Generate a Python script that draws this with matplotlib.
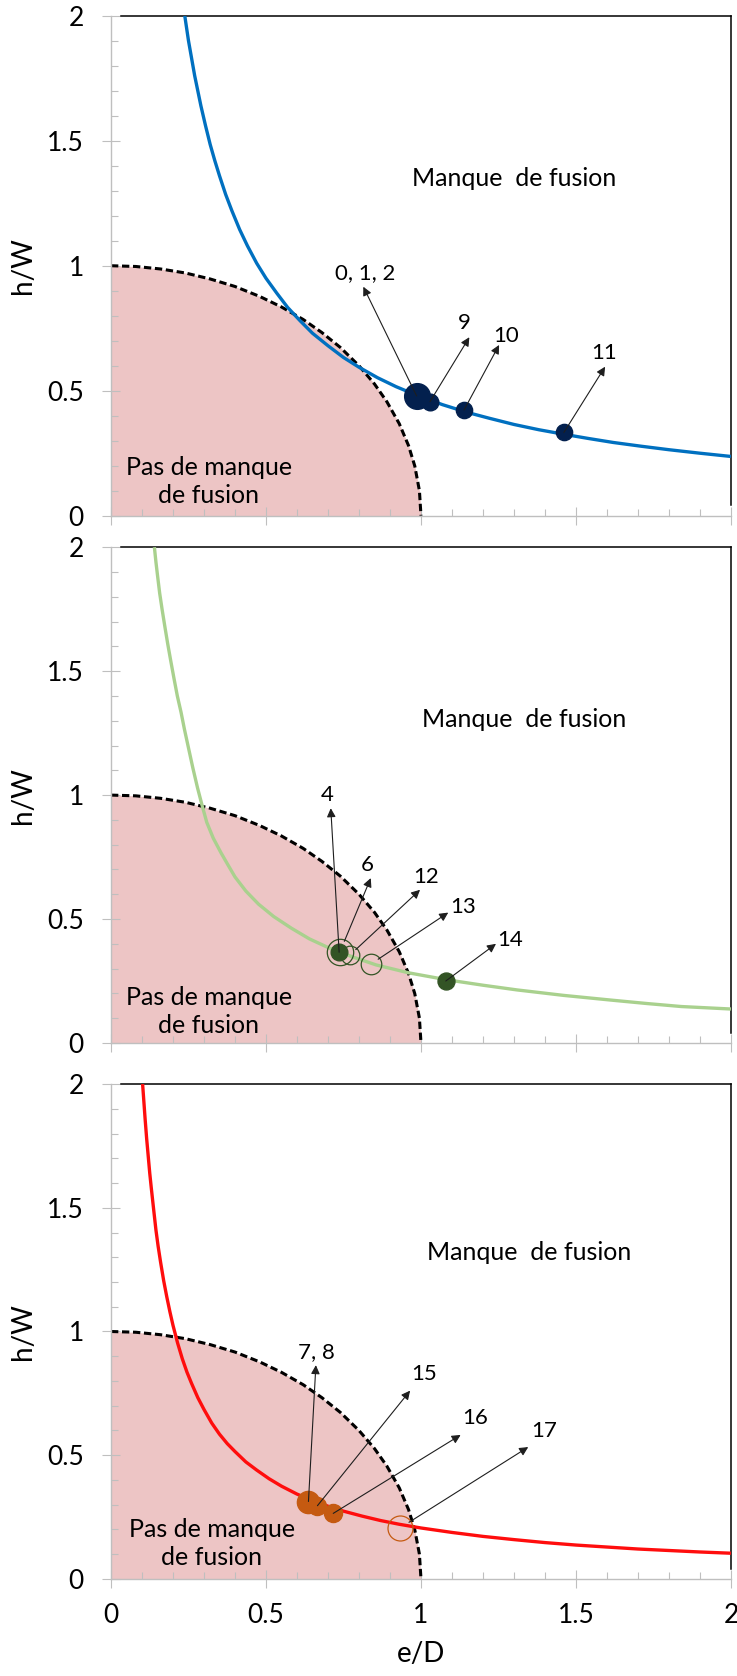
import matplotlib
matplotlib.use("Agg")
import matplotlib.pyplot as plt
from matplotlib.ticker import MultipleLocator, FixedLocator, FixedFormatter

plt.rcParams['font.family'] = ['Lato', 'DejaVu Sans']

# dashed limit between "fusion" / "manque de fusion" (same on every panel)
limit_x = [0.0, 0.08, 0.16, 0.24, 0.32, 0.40, 0.48, 0.55, 0.62, 0.68, 0.74,
           0.80, 0.85, 0.89, 0.93, 0.96, 0.98, 0.995, 1.0]
limit_y = [1.0, 0.997, 0.987, 0.971, 0.947, 0.917, 0.877, 0.835, 0.785, 0.733,
           0.673, 0.60, 0.527, 0.456, 0.368, 0.280, 0.199, 0.10, 0.0]

# panel 1 (blue)
curve1_x = [0.238, 0.25, 0.26, 0.27, 0.28, 0.29, 0.305, 0.32, 0.335, 0.35, 0.37,
            0.39, 0.415, 0.44, 0.47, 0.5, 0.535, 0.57, 0.61, 0.65, 0.7, 0.75,
            0.8, 0.86, 0.92, 0.99, 1.07, 1.15, 1.22, 1.3, 1.38, 1.46, 1.54,
            1.62, 1.71, 1.8, 1.9, 2.0]
curve1_y = [2.0, 1.9, 1.83, 1.76, 1.70, 1.64, 1.56, 1.485, 1.42, 1.36, 1.285,
            1.22, 1.145, 1.08, 1.01, 0.95, 0.89, 0.833, 0.78, 0.73, 0.68, 0.633,
            0.594, 0.552, 0.516, 0.48, 0.444, 0.413, 0.39, 0.365, 0.344, 0.326,
            0.309, 0.293, 0.278, 0.264, 0.25, 0.237]
pts1_lab = ['0, 1, 2', '9', '10', '11']
pts1_x = [0.986, 1.029, 1.139, 1.461]
pts1_y = [0.479, 0.456, 0.423, 0.333]
pts1_filled = [True, True, True, True]

# panel 2 (green)
curve2_x = [0.14, 0.145, 0.15, 0.157, 0.165, 0.174, 0.183, 0.193, 0.203, 0.214,
            0.226, 0.237, 0.249, 0.264, 0.279, 0.294, 0.309, 0.33, 0.355, 0.378,
            0.4, 0.435, 0.476, 0.525, 0.582, 0.64, 0.704, 0.78, 0.855, 0.96,
            1.083, 1.2, 1.31, 1.46, 1.613, 1.73, 1.84, 2.0]
curve2_y = [2.0, 1.94, 1.887, 1.815, 1.748, 1.678, 1.61, 1.54, 1.472, 1.40,
            1.334, 1.265, 1.196, 1.11, 1.03, 0.958, 0.89, 0.826, 0.767, 0.717,
            0.67, 0.613, 0.56, 0.51, 0.463, 0.42, 0.383, 0.347, 0.315, 0.283,
            0.255, 0.233, 0.214, 0.192, 0.173, 0.159, 0.147, 0.137]
pts2_lab = ['4', '6', '12', '13', '14']
pts2_x = [0.736, 0.738, 0.771, 0.838, 1.08]
pts2_y = [0.366, 0.366, 0.355, 0.318, 0.25]
pts2_filled = [True, False, False, False, True]

# panel 3 (red)
curve3_x = [0.102, 0.106, 0.11, 0.115, 0.12, 0.125, 0.13, 0.137, 0.145, 0.152,
            0.16, 0.17, 0.18, 0.19, 0.2, 0.215, 0.23, 0.245, 0.26, 0.28, 0.3,
            0.325, 0.35, 0.375, 0.4, 0.435, 0.47, 0.51, 0.55, 0.6, 0.64, 0.7,
            0.75, 0.81, 0.87, 0.93, 1.0, 1.1, 1.2, 1.3, 1.4, 1.5, 1.6, 1.7,
            1.8, 1.9, 2.0]
curve3_y = [2.0, 1.93, 1.86, 1.78, 1.71, 1.64, 1.58, 1.50, 1.41, 1.345,
            1.28, 1.205, 1.14, 1.08, 1.025, 0.953, 0.89, 0.836, 0.79, 0.733,
            0.685, 0.63, 0.585, 0.547, 0.515, 0.473, 0.44, 0.405, 0.375, 0.343,
            0.322, 0.294, 0.274, 0.254, 0.236, 0.221, 0.206, 0.188, 0.172,
            0.159, 0.147, 0.137, 0.129, 0.121, 0.115, 0.109, 0.104]
pts3_lab = ['7, 8', '15', '16', '17']
pts3_x = [0.637, 0.666, 0.717, 0.931]
pts3_y = [0.313, 0.296, 0.265, 0.205]
pts3_filled = [True, True, True, False]

tick_vals = [0, 0.5, 1, 1.5, 2]
tick_labels = ['0', '0.5', '1', '1.5', '2']

# layout of the callouts: arrow head and label centre (data coords)
heads1 = [(0.814, 0.916), (1.156, 0.714), (1.252, 0.683), (1.594, 0.596)]
texts1 = [(0.819, 0.971), (1.139, 0.772), (1.276, 0.719), (1.59, 0.652)]
heads2 = [(0.709, 0.947), (0.838, 0.665), (0.997, 0.618), (1.088, 0.526), (1.242, 0.40)]
texts2 = [(0.696, 1.001), (0.827, 0.718), (1.018, 0.671), (1.135, 0.55), (1.287, 0.416)]
heads3 = [(0.661, 0.864), (0.965, 0.761), (1.128, 0.582), (1.346, 0.533)]
texts3 = [(0.664, 0.918), (1.01, 0.828), (1.174, 0.649), (1.397, 0.596)]

panels = [
    dict(cx=curve1_x, cy=curve1_y, color='#0070C0', px=pts1_x, py=pts1_y,
         lab=pts1_lab, filled=pts1_filled, mcol='#03204E',
         sizes=[18.5, 12, 11.7, 11.7], heads=heads1, texts=texts1,
         manque=(1.30, 1.35), pas=(0.315, 0.137),
         rect=[0.1506, 0.6923, 0.8412, 0.2983]),
    dict(cx=curve2_x, cy=curve2_y, color='#A9D18E', px=pts2_x, py=pts2_y,
         lab=pts2_lab, filled=pts2_filled, mcol='#335425',
         sizes=[12, 19, 13.4, 14.8, 12.2], heads=heads2, texts=texts2,
         manque=(1.333, 1.306), pas=(0.315, 0.126),
         rect=[0.1506, 0.3777, 0.8412, 0.2958]),
    dict(cx=curve3_x, cy=curve3_y, color='#FF0D0D', px=pts3_x, py=pts3_y,
         lab=pts3_lab, filled=pts3_filled, mcol='#C55A11',
         sizes=[16, 13, 13, 18], heads=heads3, texts=texts3,
         manque=(1.35, 1.319), pas=(0.325, 0.142),
         rect=[0.1506, 0.0579, 0.8412, 0.2953]),
]

fig = plt.figure(figsize=(7.37, 16.76), dpi=100)
grey = '#BFBFBF'

for k, p in enumerate(panels):
    ax = fig.add_axes(p['rect'])
    ax.set_xlim(0, 2)
    ax.set_ylim(0, 2)

    ax.fill_between(limit_x, limit_y, 0, color='#EDC5C5', lw=0, zorder=1)
    ax.plot(limit_x, limit_y, color='black', lw=2.2, dashes=(2.4, 1.2), zorder=2)
    ax.plot(p['cx'], p['cy'], color=p['color'], lw=2.4, zorder=3,
            solid_capstyle='butt', solid_joinstyle='round')

    for i in range(len(p['px'])):
        if p['filled'][i]:
            ax.plot(p['px'][i], p['py'][i], 'o', ms=p['sizes'][i],
                    color=p['mcol'], mec=p['mcol'], zorder=4)
            shrink = 0
        else:
            ax.plot(p['px'][i], p['py'][i], 'o', ms=p['sizes'][i], mfc='none',
                    mec=p['mcol'], mew=0.9, zorder=4)
            shrink = p['sizes'][i] / 2.0 - 1
        ax.annotate('', xy=p['heads'][i], xytext=(p['px'][i], p['py'][i]),
                    arrowprops=dict(arrowstyle='-|>', color='#1E1E1E', lw=0.8,
                                    shrinkA=shrink, shrinkB=0,
                                    mutation_scale=13),
                    zorder=5)
        ax.text(p['texts'][i][0], p['texts'][i][1], p['lab'][i],
                ha='center', va='center', fontsize=16, zorder=6)

    ax.text(p['manque'][0], p['manque'][1], 'Manque  de fusion',
            ha='center', va='center', fontsize=18)
    ax.text(p['pas'][0], p['pas'][1], 'Pas de manque\nde fusion',
            ha='center', va='center', fontsize=18, linespacing=1.28,
            multialignment='center', zorder=6)

    # excel style frame
    ax.spines['left'].set_color(grey)
    ax.spines['bottom'].set_color(grey)
    ax.spines['left'].set_linewidth(1.0)
    ax.spines['bottom'].set_linewidth(1.0)
    ax.spines['top'].set_color('black')
    ax.spines['right'].set_color('black')
    ax.spines['top'].set_linewidth(1.1)
    ax.spines['right'].set_linewidth(1.1)
    ax.spines['top'].set_bounds(0.032, 2)
    ax.spines['right'].set_bounds(0.042, 2)

    ax.xaxis.set_major_locator(FixedLocator(tick_vals))
    ax.yaxis.set_major_locator(FixedLocator(tick_vals))
    ax.xaxis.set_major_formatter(FixedFormatter(tick_labels))
    ax.yaxis.set_major_formatter(FixedFormatter(tick_labels))
    ax.xaxis.set_minor_locator(MultipleLocator(0.1))
    ax.yaxis.set_minor_locator(MultipleLocator(0.1))
    ax.tick_params(which='major', direction='inout', length=13, width=0.8,
                   color=grey, labelsize=19, top=False, right=False)
    ax.tick_params(axis='y', which='major', pad=13)
    ax.tick_params(axis='x', which='major', pad=11)
    ax.tick_params(which='minor', direction='in', length=4.8, width=0.8,
                   color=grey, top=False, right=False)

    ax.set_ylabel('h/W', fontsize=20, labelpad=8)
    if k < 2:
        ax.tick_params(axis='x', labelbottom=False)
    else:
        ax.set_xlabel('e/D', fontsize=20, labelpad=9)

fig.savefig('out.png', dpi=100)
